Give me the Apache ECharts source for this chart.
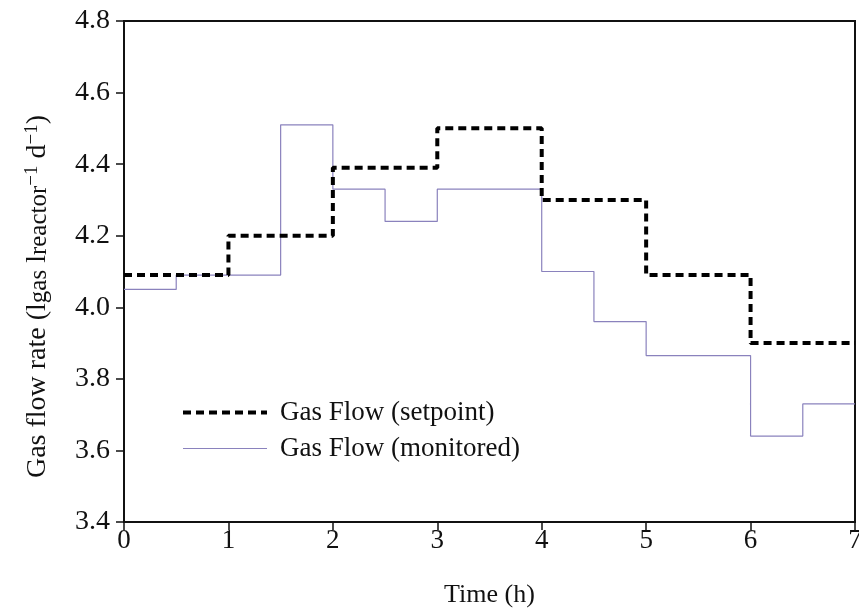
<!DOCTYPE html>
<html>
<head>
<meta charset="utf-8">
<script src="https://cdn.jsdelivr.net/npm/echarts@6/dist/echarts.min.js"></script>
<style>
  html, body { margin: 0; padding: 0; background: #fff; }
  #chart { width: 859px; height: 610px; }
</style>
</head>
<body>
<div id="chart"></div>
<script>
// setpoint steps: value holds from time[i] until time[i+1]
var setpointTimes = [0, 1, 2, 3, 4, 5, 6, 7];
var setpointValues = [4.09, 4.2, 4.39, 4.5, 4.3, 4.09, 3.9, 3.9];

var monitoredTimes = [0, 0.5, 1.5, 2, 2.5, 3, 4, 4.5, 5, 6, 6.5, 7];
var monitoredValues = [4.05, 4.09, 4.51, 4.33, 4.24, 4.33, 4.1, 3.96, 3.865, 3.64, 3.73, 3.73];

var seriesNames = ['Gas Flow (setpoint)', 'Gas Flow (monitored)'];

var serif = "'Liberation Serif', 'Times New Roman', serif";

function pairs(xs, ys) {
    return xs.map(function (x, i) {
        return [x, ys[i]];
    });
}

var myChart = echarts.init(document.getElementById('chart'));

var option = {
    backgroundColor: '#fff',
    animation: false,
    grid: {
        left: 124,
        right: 4,
        top: 21,
        bottom: 88,
        show: true,
        borderColor: '#111',
        borderWidth: 2,
        containLabel: false,
        outerBoundsMode: 'none'
    },
    legend: {
        orient: 'vertical',
        left: 176,
        top: 394,
        itemWidth: 84,
        itemHeight: 14,
        itemGap: 9,
        data: seriesNames,
        itemStyle: { opacity: 0 },
        lineStyle: { width: 'inherit' },
        textStyle: {
            fontFamily: serif,
            fontSize: 27,
            color: '#111',
            padding: [0, 0, 0, 8]
        }
    },
    xAxis: {
        type: 'value',
        min: 0,
        max: 7,
        interval: 1,
        name: 'Time (h)',
        nameLocation: 'middle',
        nameGap: 60,
        nameTextStyle: { fontFamily: serif, fontSize: 26, color: '#111' },
        axisLine: { lineStyle: { color: '#111', width: 2 } },
        axisTick: { length: 8, lineStyle: { color: '#111', width: 1.5 } },
        axisLabel: { fontFamily: serif, fontSize: 27, color: '#111', margin: 5 },
        splitLine: { show: false }
    },
    yAxis: {
        type: 'value',
        min: 3.4,
        max: 4.8,
        interval: 0.2,
        name: '{t|Gas flow rate (l}{s|gas}{t| l}{s|reactor}{p|−1}{t| d}{p|−1}{t|)}',
        nameLocation: 'middle',
        nameGap: 72,
        nameTextStyle: {
            fontFamily: serif,
            fontSize: 28,
            color: '#111',
            padding: [0, 50, 0, 0],
            rich: {
                t: { fontFamily: serif, fontSize: 28, color: '#111' },
                s: { fontFamily: serif, fontSize: 25, color: '#111', verticalAlign: 'bottom' },
                p: { fontFamily: serif, fontSize: 19, color: '#111', verticalAlign: 'top', padding: [0, 0, 10, 0] }
            }
        },
        axisLine: { show: true, lineStyle: { color: '#111', width: 2 } },
        axisTick: { show: true, length: 8, lineStyle: { color: '#111', width: 1.5 } },
        axisLabel: {
            fontFamily: serif,
            fontSize: 28,
            color: '#111',
            margin: 14,
            formatter: function (v) { return v.toFixed(1); }
        },
        splitLine: { show: false }
    },
    series: [
        {
            name: seriesNames[0],
            type: 'line',
            step: 'end',
            symbol: 'none',
            data: pairs(setpointTimes, setpointValues),
            lineStyle: { color: '#000', width: 4, type: [8, 5] },
            itemStyle: { color: '#000' },
            z: 3
        },
        {
            name: seriesNames[1],
            type: 'line',
            step: 'end',
            symbol: 'none',
            data: pairs(monitoredTimes, monitoredValues),
            lineStyle: { color: '#8a82bd', width: 1.2 },
            itemStyle: { color: '#8a82bd' },
            z: 2
        }
    ]
};

myChart.setOption(option);
</script>
</body>
</html>
